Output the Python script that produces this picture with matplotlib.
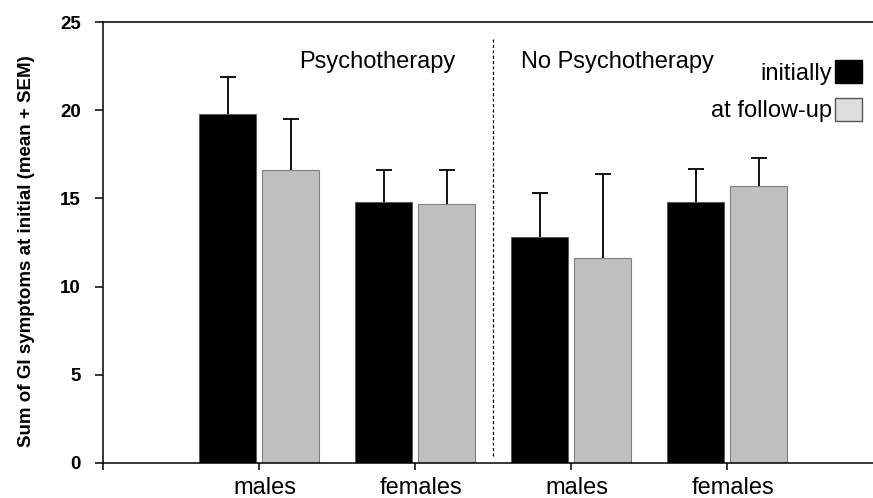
import matplotlib
matplotlib.use('Agg')
import matplotlib.pyplot as plt
from matplotlib.patches import Patch
from matplotlib.transforms import ScaledTranslation
import numpy as np

groups = ['males', 'females', 'males', 'females']
initially = [19.8, 14.8, 12.8, 14.8]
initially_sem = [2.1, 1.8, 2.5, 1.9]
followup = [16.6, 14.7, 11.6, 15.7]
followup_sem = [2.9, 1.9, 4.8, 1.6]
sections = ['Psychotherapy', 'No Psychotherapy']

plt.rcParams['font.family'] = ['Liberation Sans', 'DejaVu Sans']

fig = plt.figure(figsize=(8.73, 4.98), dpi=100)
ax = fig.add_axes([103.3 / 873, 35.3 / 498, 780 / 873, 440.4 / 498])

x = np.arange(len(groups))
w = 0.365
off = 0.2025

ax.bar(x - off, initially, w, color='black', edgecolor='#555555', linewidth=0.6, zorder=2)
ax.bar(x + off, followup, w, color='#c0c0c0', edgecolor='#808080', linewidth=0.8, zorder=2)
for xs, vals, sem in [(x - off, initially, initially_sem), (x + off, followup, followup_sem)]:
    eb = ax.errorbar(xs, vals, yerr=[np.zeros(len(vals)), sem], fmt='none',
                     ecolor='black', elinewidth=1.3, capsize=6, capthick=1.3, zorder=3)
    # only the upper cap is wanted
    eb[1][0].remove()

# divider between the two sections
ax.plot([1.5, 1.5], [0.4, 24.1], color='black', linestyle=(0, (2.5, 1.8)), linewidth=0.9)

ax.text(0.754, 22.39, sections[0], fontsize=17, ha='center', va='baseline')
ax.text(2.295, 22.39, sections[1], fontsize=17, ha='center', va='baseline')

ax.set_xlim(-1, 4)
ax.set_ylim(0, 25)
ax.set_xticks([-1, 0, 1, 2, 3])
ax.set_xticklabels([''] + groups, fontsize=17)
ax.set_yticks([0, 5, 10, 15, 20, 25])
ax.set_yticklabels(['0', '5', '10', '15', '20', '25'], fontsize=13.5, fontweight='bold')
ax.tick_params(axis='y', length=6, width=1.1, pad=10)
ax.tick_params(axis='x', length=5, width=1.1, pad=5)
shift = ScaledTranslation(6 / 100, 0, fig.dpi_scale_trans)
for lab in ax.get_xticklabels():
    lab.set_transform(lab.get_transform() + shift)
for s in ax.spines.values():
    s.set_linewidth(1.1)

ax.set_ylabel('Sum of GI symptoms at initial (mean + SEM)', fontsize=13.5, fontweight='bold')
ax.yaxis.set_label_coords(-0.088, 0.48)

handles = [Patch(facecolor='black', edgecolor='black'),
           Patch(facecolor='#dddddd', edgecolor='#555555')]
fig.legend(handles, ['initially', 'at follow-up'], loc='upper right',
           bbox_to_anchor=(862 / 873, 1 - 60 / 498), frameon=False, fontsize=17,
           markerfirst=False, handlelength=1.15, handleheight=1.15, handletextpad=0.1,
           labelspacing=0.55, borderpad=0, borderaxespad=0)

fig.savefig('out.png', dpi=100)
